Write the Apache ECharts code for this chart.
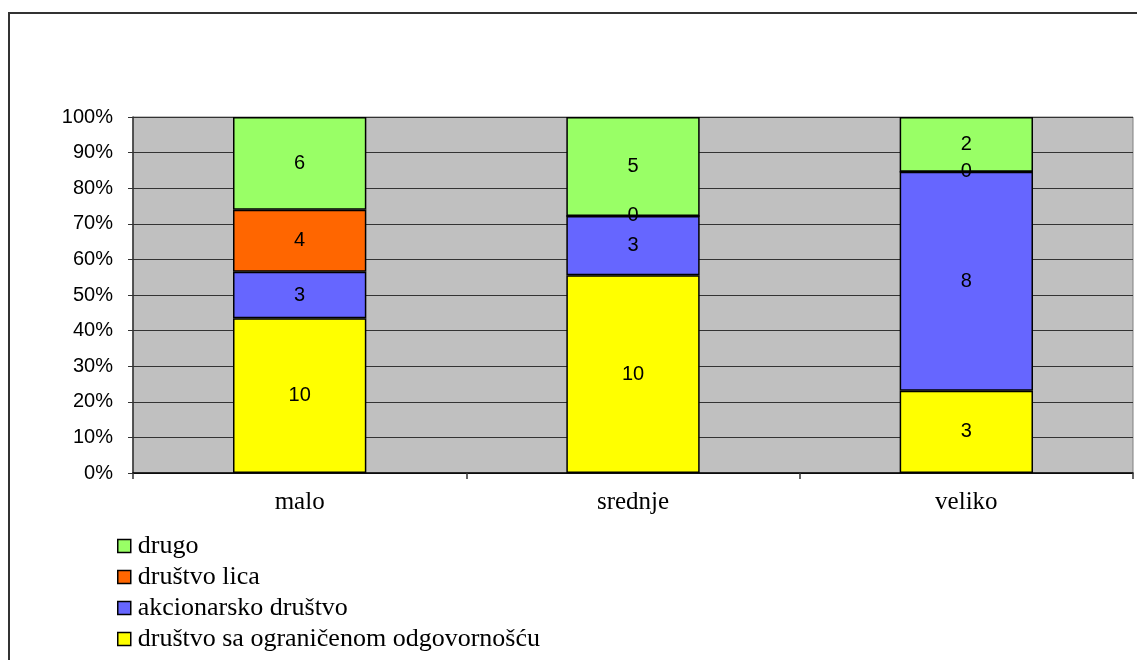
<!DOCTYPE html>
<html>
<head>
<meta charset="utf-8">
<script src="https://cdn.jsdelivr.net/npm/echarts@6/dist/echarts.min.js"></script>
<style>
html,body{margin:0;padding:0;background:#fff;}
#chart{width:1137px;height:660px;}
</style>
</head>
<body>
<div id="chart"></div>
<script>
const categories = ['malo', 'srednje', 'veliko'];
const dsoo = [10, 10, 3];        // društvo sa ograničenom odgovornošću
const akcionarsko = [3, 3, 8];   // akcionarsko društvo
const lica = [4, 0, 0];          // društvo lica
const drugo = [6, 5, 2];         // drugo
const yTicks = ['0%','10%','20%','30%','40%','50%','60%','70%','80%','90%','100%'];

const seriesDefs = [
  { name: 'društvo sa ograničenom odgovornošću', values: dsoo, color: '#FFFF00' },
  { name: 'akcionarsko društvo', values: akcionarsko, color: '#6666FF' },
  { name: 'društvo lica', values: lica, color: '#FF6600' },
  { name: 'drugo', values: drugo, color: '#99FF66' }
];
const totals = categories.map((c, i) => seriesDefs.reduce((s, d) => s + d.values[i], 0));

const chart = echarts.init(document.getElementById('chart'));
chart.setOption({
  animation: false,
  backgroundColor: '#fff',
  graphic: [{
    type: 'rect',
    shape: { x: 9, y: 13, width: 1200, height: 700 },
    style: { fill: 'none', stroke: '#333', lineWidth: 2 },
    silent: true
  }],
  grid: {
    left: 133, top: 117, right: 4, bottom: 187,
    show: true, backgroundColor: '#C0C0C0', borderColor: '#808080', borderWidth: 1
  },
  legend: {
    orient: 'vertical',
    left: 117, top: 533, padding: 0,
    itemWidth: 13, itemHeight: 13, itemGap: 5,
    icon: 'rect',
    data: ['drugo', 'društvo lica', 'akcionarsko društvo', 'društvo sa ograničenom odgovornošću'],
    itemStyle: { borderColor: '#000', borderWidth: 1.5 },
    textStyle: { fontFamily: 'Liberation Serif', fontSize: 26, color: '#000', padding: [0, 0, 0, 2] }
  },
  xAxis: {
    type: 'category',
    data: categories,
    axisLine: { lineStyle: { color: '#000', width: 1.5 } },
    axisTick: { show: true, length: 6, lineStyle: { color: '#333', width: 1.5 } },
    axisLabel: { fontFamily: 'Liberation Serif', fontSize: 25, color: '#000', margin: 17 }
  },
  yAxis: {
    type: 'value',
    min: 0, max: 100, interval: 10,
    axisLine: { show: true, lineStyle: { color: '#333', width: 1.5 } },
    axisTick: { show: true, length: 5, lineStyle: { color: '#333' } },
    axisLabel: {
      fontFamily: 'Liberation Sans', fontSize: 20, color: '#000', margin: 20,
      formatter: v => yTicks[Math.round(v / 10)]
    },
    splitLine: { show: true, lineStyle: { color: '#333', width: 1 } }
  },
  series: seriesDefs.map(d => ({
    name: d.name,
    type: 'bar',
    stack: 'total',
    barWidth: '40%',
    data: d.values.map((v, i) => v / totals[i] * 100),
    itemStyle: { color: d.color, borderColor: '#000', borderWidth: 1.5 },
    label: {
      show: true, position: 'inside',
      fontFamily: 'Liberation Sans', fontSize: 20, color: '#000',
      padding: [4, 0, 0, 0],
      formatter: p => String(d.values[p.dataIndex])
    }
  }))
});
</script>
</body>
</html>
